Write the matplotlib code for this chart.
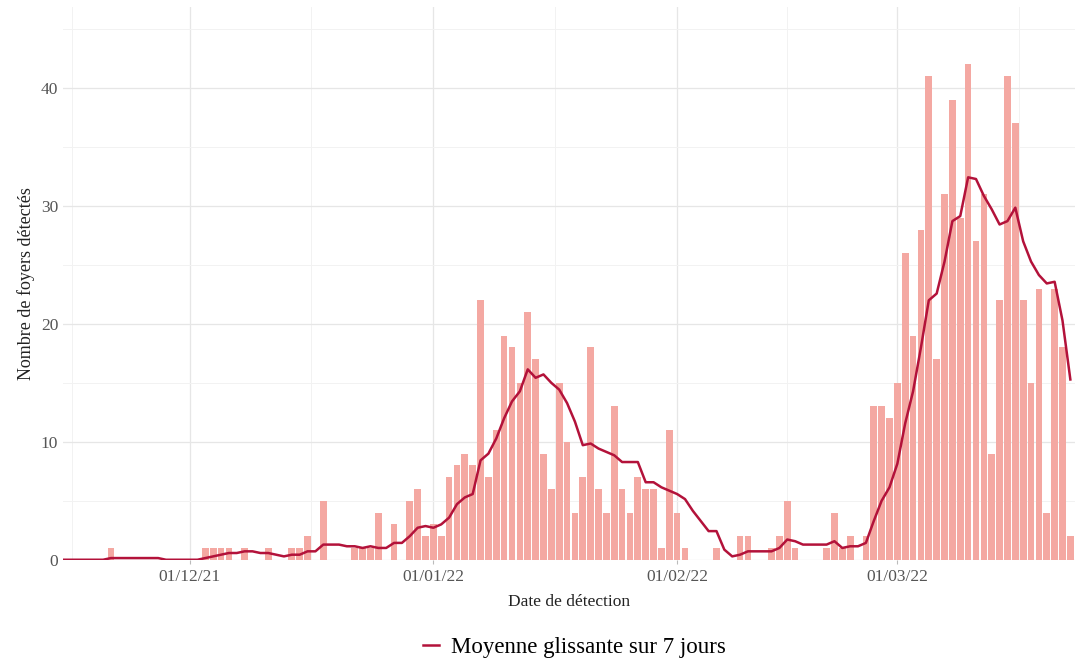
import datetime as dt
import numpy as np
import pandas as pd
import matplotlib
matplotlib.use("Agg")
import matplotlib.pyplot as plt
import matplotlib.dates as mdates

plt.rcParams['font.family'] = ['Liberation Serif', 'DejaVu Serif']

# === données : foyers détectés par jour (15/11/21 -> 23/03/22) ===
start = "2021-11-15"
nov = [0, 0, 0, 0, 0, 0, 1, 0, 0, 0, 0, 0, 0, 0, 0, 0]
dec = [0, 0, 1, 1, 1, 1, 0, 1, 0, 0, 1, 0, 0, 1, 1, 2, 0, 5, 0, 0, 0, 1, 1, 1,
       4, 0, 3, 0, 5, 6, 2]
jan = [3, 2, 7, 8, 9, 8, 22, 7, 11, 19, 18, 15, 21, 17, 9, 6, 15, 10, 4, 7, 18,
       6, 4, 13, 6, 4, 7, 6, 6, 1, 11]
feb = [4, 1, 0, 0, 0, 1, 0, 0, 2, 2, 0, 0, 1, 2, 5, 1, 0, 0, 0, 1, 4, 1, 2, 0,
       2, 13, 13, 12]
mar = [15, 26, 19, 28, 41, 17, 31, 39, 29, 42, 27, 31, 9, 22, 41, 37, 22, 15,
       23, 4, 23, 18, 2]

counts = nov + dec + jan + feb + mar
dates = pd.date_range(start, periods=len(counts), freq="D")
df = pd.DataFrame({"date": dates, "n": counts})
df["mm7"] = df["n"].rolling(7, min_periods=1).mean()

tick_dates = ["2021-12-01", "2022-01-01", "2022-02-01", "2022-03-01"]
tick_labels = ["01/12/21", "01/01/22", "01/02/22", "01/03/22"]
# grille secondaire : milieu des mois
minor_dates = ["2021-11-16 00:00", "2021-12-16 12:00", "2022-01-16 12:00",
               "2022-02-15 00:00", "2022-03-16 12:00"]

# === figure ===
fig = plt.figure(figsize=(10.88, 6.64), dpi=100)
ax = fig.add_axes([0.058, 0.157, 0.930, 0.833])

x = mdates.date2num(df["date"])
ax.bar(x, df["n"], width=0.85, color="#F4A8A2", edgecolor="none", zorder=2)
ax.plot(x, df["mm7"], color="#B3123A", lw=1.8, zorder=3,
        label="Moyenne glissante sur 7 jours")

# axes
ax.set_xlim(mdates.date2num(pd.Timestamp("2021-11-14 22:00")),
            mdates.date2num(pd.Timestamp("2022-03-23 14:00")))
ax.set_ylim(0, 46.9)
ax.set_xticks(mdates.date2num(pd.to_datetime(tick_dates)))
ax.set_xticklabels(tick_labels)
ax.set_xticks(mdates.date2num(pd.to_datetime(minor_dates, format="%Y-%m-%d %H:%M")),
              minor=True)
ax.set_yticks([0, 10, 20, 30, 40])
ax.set_yticks([5, 15, 25, 35, 45], minor=True)

ax.grid(which="major", color="#E6E6E6", lw=0.9, zorder=0)
ax.grid(which="minor", color="#F2F2F2", lw=0.7, zorder=0)
for s in ax.spines.values():
    s.set_visible(False)
ax.tick_params(axis="both", which="both", length=0, colors="#555555",
               labelsize=12.5)
ax.tick_params(axis="x", which="major", length=3, color="#BBBBBB", pad=4)

ax.set_xlabel("Date de détection", fontsize=12.5, color="#222222", labelpad=6)
ax.set_ylabel("Nombre de foyers détectés", fontsize=13, color="#222222",
              labelpad=4)

fig.legend(loc="lower center", bbox_to_anchor=(0.528, -0.022), frameon=False,
           fontsize=16.5, handlelength=0.7, handletextpad=0.5)

fig.savefig("out.png", dpi=100)
